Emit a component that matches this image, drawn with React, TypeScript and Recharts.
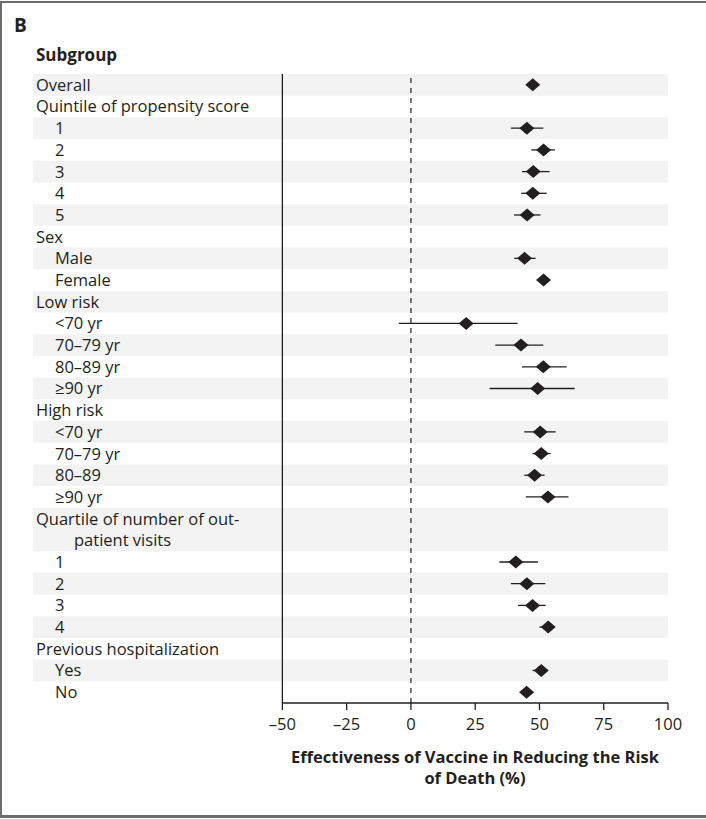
import React from 'react';
import { ScatterChart, Scatter, XAxis, YAxis, ErrorBar, ReferenceArea, ReferenceLine, Label } from 'recharts';

// row labels, indent level and row position (in line units; the quartile label takes two lines)
const labels = [
  'Overall', 'Quintile of propensity score', '1', '2', '3', '4', '5',
  'Sex', 'Male', 'Female',
  'Low risk', '<70 yr', '70\u201379  yr', '80\u201389 yr', '\u226590 yr',
  'High risk', '<70 yr', '70\u201379 yr', '80\u201389', '\u226590 yr',
  'Quartile of number of out-', '1', '2', '3', '4',
  'Previous hospitalization', 'Yes', 'No',
];
const indents = [0, 0, 1, 1, 1, 1, 1, 0, 1, 1, 0, 1, 1, 1, 1, 0, 1, 1, 1, 1, 0, 1, 1, 1, 1, 0, 1, 1];
const positions = [0, 1, 2, 3, 4, 5, 6, 7, 8, 9, 10, 11, 12, 13, 14, 15, 16, 17, 18, 19, 20, 22, 23, 24, 25, 26, 27, 28];

// effectiveness estimate and 95% CI (null = header row)
const estimate = [47.4, null, 45.1, 51.6, 47.6, 47.4, 45.2, null, 44.2, 51.6, null, 21.5, 42.8, 51.5, 49.3, null, 50.3, 50.7, 48.1, 53.3, null, 40.8, 45.1, 47.3, 53.4, null, 50.7, 45.0];
const lower = [46.2, null, 38.9, 46.8, 43.2, 42.9, 40.1, null, 40.2, 50.2, null, -4.7, 32.8, 43.2, 30.6, null, 44.1, 47.3, 44.1, 44.7, null, 34.4, 38.9, 41.7, 50.0, null, 47.3, 42.8];
const upper = [48.6, null, 51.5, 56.0, 53.9, 52.8, 50.4, null, 48.5, 53.0, null, 41.5, 51.5, 60.6, 63.7, null, 56.3, 54.3, 52.0, 61.3, null, 49.4, 52.3, 52.4, 55.7, null, 53.2, 47.0];

// shaded bands: [from, to] in row positions
const shadedBands = [[0, 0], [2, 2], [4, 4], [6, 6], [8, 8], [10, 10], [12, 12], [14, 14], [16, 16], [18, 18], [20, 21], [23, 23], [25, 25], [27, 27]];

const xTicks = [-50, -25, 0, 25, 50, 75, 100];

const FONT = '"Open Sans", Lato, sans-serif';
const INK = '#231f20';
const LABEL_SIZE = 16.5;

const points = estimate
  .map((est, i) => (est === null ? null : {
    pos: positions[i],
    est,
    err: [est - (lower[i] as number), (upper[i] as number) - est],
  }))
  .filter(Boolean);

const Diamond = (props: any) => {
  const { cx, cy } = props;
  if (cx == null || cy == null) return null;
  return <path d={`M${cx - 7.5},${cy} L${cx},${cy - 6.5} L${cx + 7.5},${cy} L${cx},${cy + 6.5} Z`} fill={INK} />;
};

const renderRowTick = (props: any) => {
  const { y, payload } = props;
  const idx = positions.indexOf(payload.value);
  if (idx < 0) return <g />;
  const x = 36 + indents[idx] * 19;
  return (
    <g>
      <text x={x} y={y} dy="0.36em" fontSize={LABEL_SIZE} fontFamily={FONT} fill={INK} textAnchor="start">
        {labels[idx]}
      </text>
      {idx === 20 && (
        <text x={74} y={y + 21.7} dy="0.36em" fontSize={LABEL_SIZE} fontFamily={FONT} fill={INK} textAnchor="start">
          patient visits
        </text>
      )}
    </g>
  );
};

const AxisTitle = (props: any) => {
  const { viewBox } = props;
  const cx = 475;
  return (
    <text x={cx} y={viewBox.y + 60} textAnchor="middle" fontSize={16.5} fontWeight={700} fontFamily={FONT} fill={INK}>
      <tspan x={cx}>Effectiveness of Vaccine in Reducing the Risk</tspan>
      <tspan x={cx} dy={21}>of Death (%)</tspan>
    </text>
  );
};

export default function App() {
  return (
    <div style={{ position: 'absolute', left: 0, top: 0, width: 706, height: 819, background: '#fff', fontFamily: FONT }}>
      <div style={{ position: 'absolute', left: 0, top: 1, width: 706, height: 817, borderTop: '2px solid #6d6d6d', borderLeft: '2px solid #6d6d6d', borderBottom: '3px solid #6d6d6d', boxSizing: 'border-box' }} />
      <div style={{ position: 'absolute', left: 14, top: 12, fontSize: 19, lineHeight: '26px', fontWeight: 700, color: INK }}>B</div>
      <div style={{ position: 'absolute', left: 36, top: 43, fontSize: 17, lineHeight: '24px', fontWeight: 700, color: INK }}>Subgroup</div>
      <div style={{ position: 'absolute', left: 0, top: 0 }}>
        <ScatterChart width={706} height={819} margin={{ top: 74, right: 38, bottom: 86, left: 32 }}>
          {shadedBands.map(([a, b], i) => (
            <ReferenceArea key={i} y1={a - 0.5} y2={b + 0.5} fill="#f3f3f3" fillOpacity={1} stroke="none" ifOverflow="visible" />
          ))}
          <XAxis
            type="number"
            dataKey="est"
            domain={[-147, 100]}
            ticks={xTicks}
            allowDataOverflow
            axisLine={false}
            tickLine={{ stroke: INK, strokeWidth: 1.3 }}
            tickSize={7}
            tickMargin={8}
            tick={{ fontSize: 16.5, fontFamily: FONT, fill: INK }}
            tickFormatter={(v: number) => (v < 0 ? `\u2013${Math.abs(v)}` : `${v}`)}
          >
            <Label content={<AxisTitle />} />
          </XAxis>
          <YAxis
            type="number"
            dataKey="pos"
            domain={[-0.5, 28.5]}
            reversed
            ticks={positions}
            interval={0}
            width={1}
            axisLine={false}
            tickLine={false}
            tick={renderRowTick}
          />
          <ReferenceLine x={-50} stroke={INK} strokeWidth={1.3} />
          <ReferenceLine x={0} stroke={INK} strokeWidth={1.2} strokeDasharray="5 5" />
          <ReferenceLine segment={[{ x: -50, y: 28.5 }, { x: 100, y: 28.5 }]} stroke={INK} strokeWidth={1.3} ifOverflow="visible" />
          <Scatter data={points as any[]} dataKey="est" shape={<Diamond />} isAnimationActive={false}>
            <ErrorBar dataKey="err" direction="x" width={0} stroke={INK} strokeWidth={1.3} />
          </Scatter>
        </ScatterChart>
      </div>
    </div>
  );
}
